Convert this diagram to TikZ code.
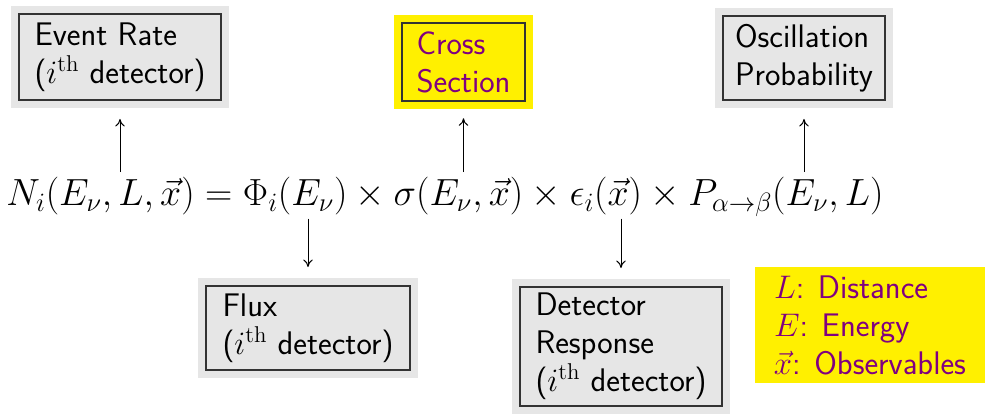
\RequirePackage{fix-cm}
\documentclass[tikz,border=0pt]{standalone}
\usepackage{tikz}
\usetikzlibrary{arrows.meta,positioning,calc}
\usepackage{xcolor}
\definecolor{boxgray}{HTML}{E6E6E6}
\definecolor{hiyellow}{HTML}{FFF000}
\definecolor{hipurple}{HTML}{800080}
\definecolor{dark}{HTML}{333333}
\newlength{\pxu}
\setlength{\pxu}{0.6pt}
\tikzset{
  boxframe/.style={draw=dark, line width=0.7pt, fill=#1, preaction={draw=#1, line width=10pt}, align=left, inner sep=0pt, font=\fontsize{19.6pt}{22.8pt}\selectfont\sffamily},
  graybox/.style={boxframe=boxgray},
  yellowbox/.style={boxframe=hiyellow, text=hipurple},
  legendbox/.style={fill=hiyellow, text=hipurple, align=left, inner sep=0pt, font=\fontsize{19.6pt}{22.8pt}\selectfont\sffamily},
  arrow/.style={-{To[length=1.6mm,width=2mm]}, line width=0.6pt}
}

\begin{document}
\begin{tikzpicture}[x=0.6pt, y=-0.6pt]
  \useasboundingbox (0,0) rectangle (994,416);
  % equation
  \node[font=\fontsize{22.7pt}{27pt}\selectfont, inner sep=0pt] (eq) at (445,197) {$N_i(E_\nu, L, \vec{x}) = \Phi_i(E_\nu) \times \sigma(E_\nu, \vec{x}) \times \epsilon_i(\vec{x}) \times P_{\alpha\to\beta}(E_\nu, L)$};
  % boxes above
  \node[graybox, minimum width=202\pxu, minimum height=86\pxu] (rate) at (120,57) {Event Rate\\($i^{\rm th}$ detector)};
  \node[yellowbox, minimum width=123\pxu, minimum height=78\pxu] (cross) at (463.5,62) {Cross\\Section};
  \node[graybox, minimum width=162\pxu, minimum height=84\pxu] (osc) at (804,58) {Oscillation\\Probability};
  % boxes below
  \node[graybox, minimum width=204\pxu, minimum height=84\pxu] (flux) at (308,328) {Flux\\($i^{\rm th}$ detector)};
  \node[graybox, minimum width=202\pxu, minimum height=119\pxu] (resp) at (621,346.5) {Detector\\Response\\($i^{\rm th}$ detector)};
  \node[legendbox, minimum width=230\pxu, minimum height=116\pxu] (legend) at (870,325) {$L$: Distance\\$E$: Energy\\$\vec{x}$: Observables};
  % arrows
  \draw[arrow] ([yshift=3pt]eq.north -| rate.south) -- ([yshift=-11pt]rate.south);
  \draw[arrow] ([yshift=3pt]eq.north -| cross.south) -- ([yshift=-10pt]cross.south);
  \draw[arrow] ([yshift=3pt]eq.north -| osc.south) -- ([yshift=-11pt]osc.south);
  \draw[arrow] ([yshift=-1pt]eq.south -| flux.north) -- ([yshift=11pt]flux.north);
  \draw[arrow] ([yshift=-1pt]eq.south -| resp.north) -- ([yshift=11pt]resp.north);
\end{tikzpicture}
\end{document}
